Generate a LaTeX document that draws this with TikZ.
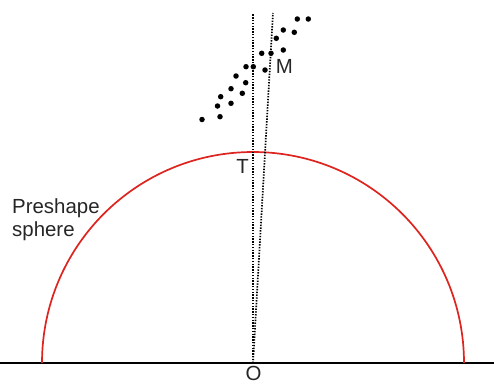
\documentclass[tikz,border=0pt]{standalone}
\usepackage{fontspec}
\setmainfont{Liberation Sans}
\definecolor{sphred}{RGB}{222,36,30}
\begin{document}
\begin{tikzpicture}[x=1bp,y=-1bp,
  lbl/.style={font=\fontsize{20.5pt}{23.5pt}\selectfont,text=black!85,inner sep=0pt},
  pt/.style={circle,fill=black,inner sep=0pt,minimum size=5.5bp},
  ray/.style={line width=1.7bp,dash pattern=on 1.4bp off 1.4bp}]
\useasboundingbox (0,0) rectangle (494,383);
\coordinate (O) at (253,363);
\coordinate (L) at (0,363);
\coordinate (R) at (494,363);
\coordinate (A) at (253,13);
\coordinate (B) at (273,13);
\draw[line width=1.3bp] (L) -- (R);
\draw[sphred,line width=1.7bp] (42,363) arc[start angle=180,end angle=360,radius=211];
\draw[ray] (O) -- (A);
\draw[ray] (O) -- (B);
\foreach \x/\y [count=\i] in {202/119.5,220/116.7,217.5/106,231/103.3,220.7/96.7,231/88.7,242.3/93.3,236/76,245.7/82.7,246/66.7,253.3/66.7,265/70,261.7/53.3,271/53.3,283.3/50,276.3/38.3,283.3/30,294.3/32.3,297.3/19,308.3/19}
  \node[pt] (d\i) at (\x,\y) {};
\node[lbl,anchor=base] (M) at (284.5,73.5) {M};
\node[lbl,anchor=base] (T) at (242.5,173) {T};
\node[lbl,anchor=base] (Olab) at (253.5,380.3) {O};
\node[lbl,anchor=base west] (P1) at (12,213) {Preshape};
\node[lbl,anchor=base west] (P2) at (12,236.5) {sphere};
\end{tikzpicture}
\end{document}
